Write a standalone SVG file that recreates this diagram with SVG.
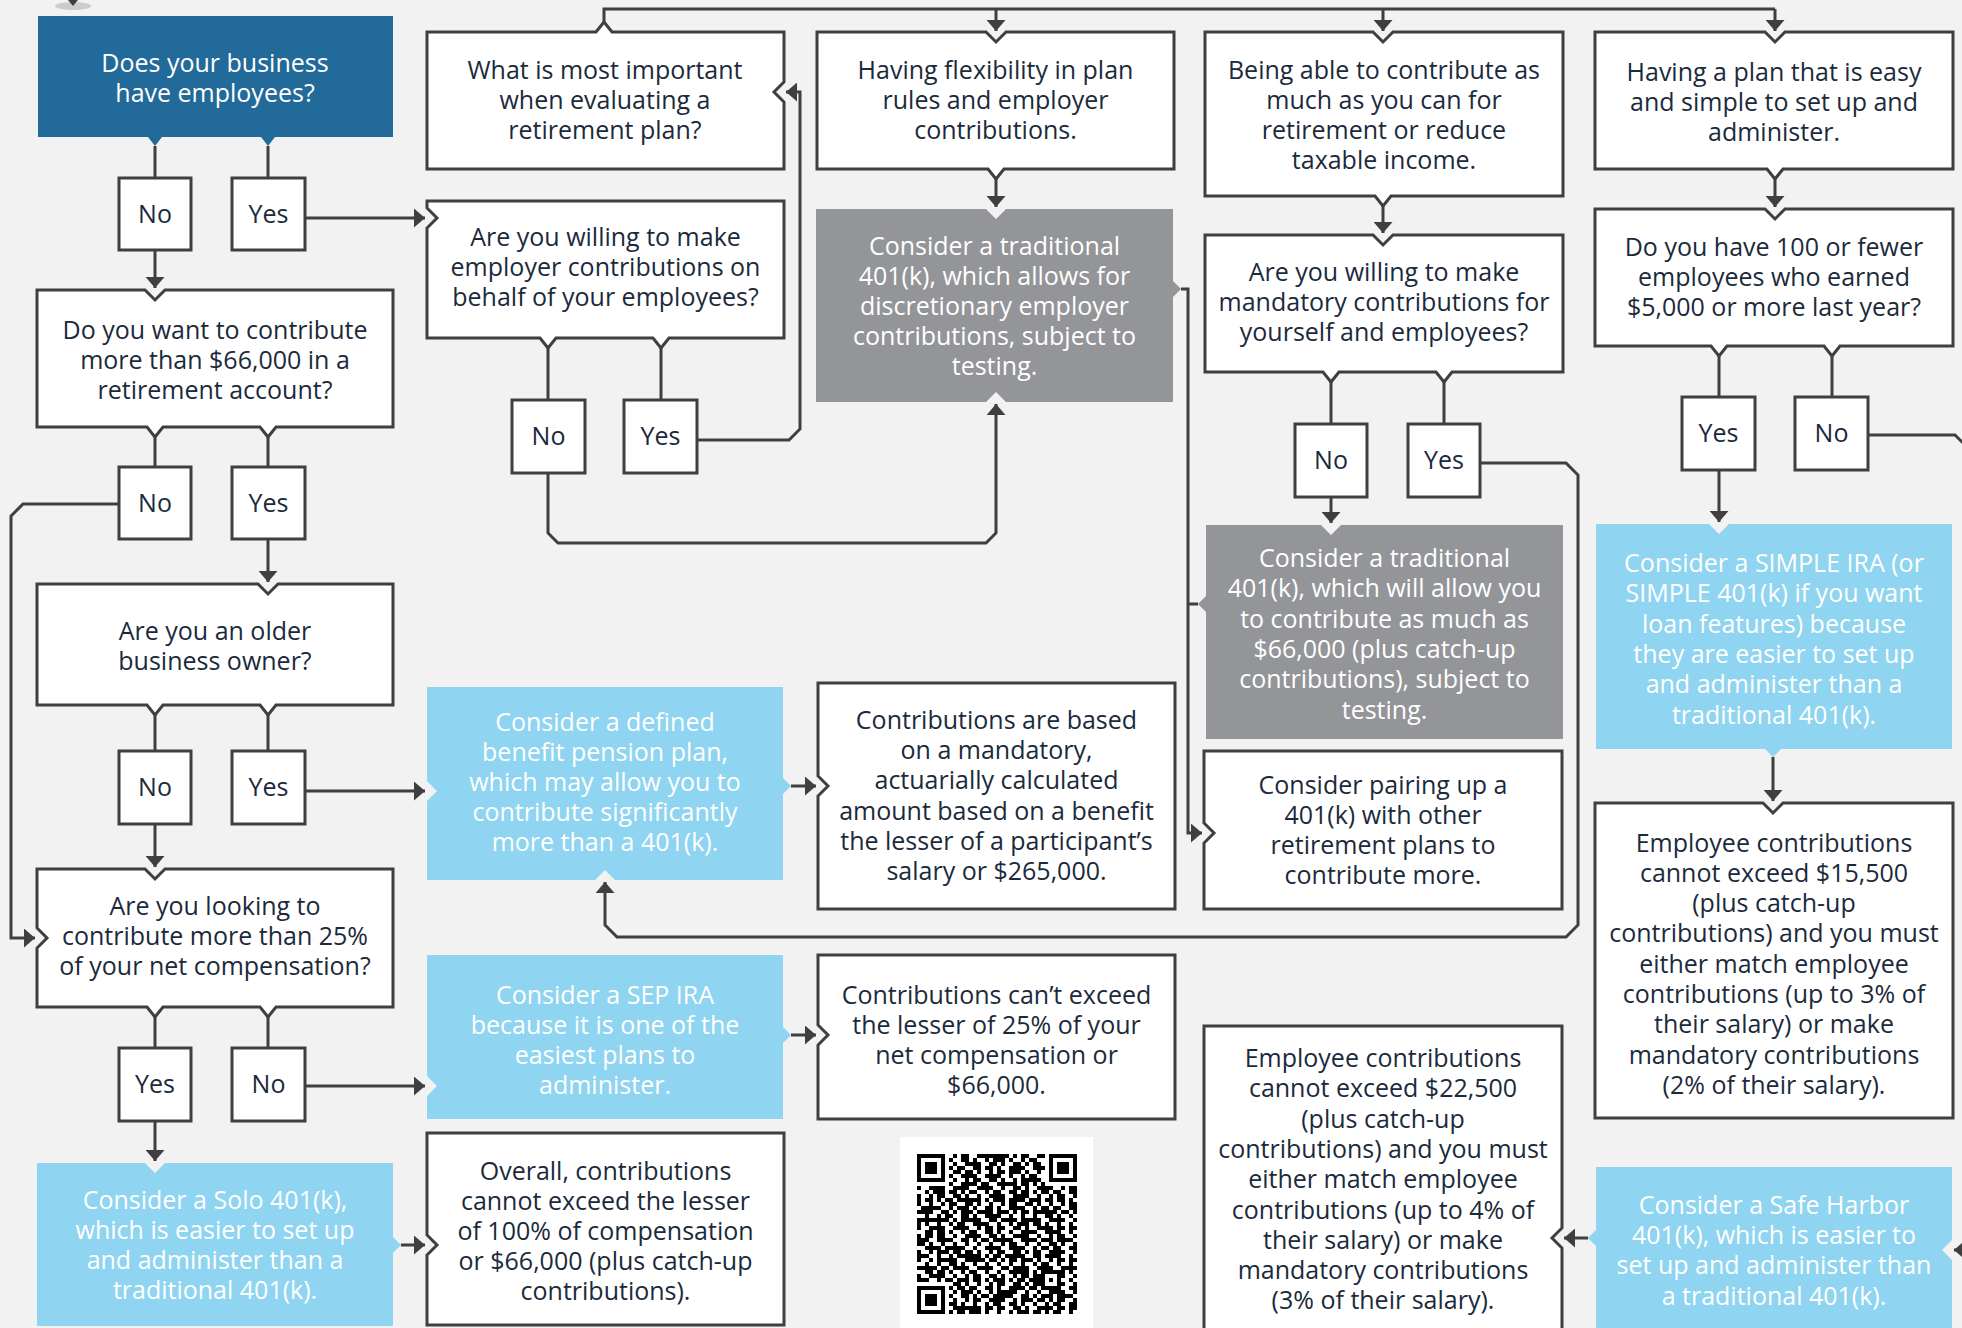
<svg xmlns="http://www.w3.org/2000/svg" width="1962" height="1328" viewBox="0 0 1962 1328">
<style>
.bx{fill:#fff;stroke:#3f3f3f;stroke-width:3}
.lb{fill:#8fd4f0}
.gr{fill:#939598}
.db{fill:#226a9a}
.c{fill:none;stroke:#3f3f3f;stroke-width:3;marker-end:url(#ah)}
.cn{fill:none;stroke:#3f3f3f;stroke-width:3}
.t{font-family:"Open Sans","Liberation Sans",sans-serif;font-size:25px;fill:#1b2a3b;text-anchor:middle}
.w{fill:#fff}
</style>
<defs>
<marker id="ah" viewBox="0 0 11 19" refX="11" refY="9.5" markerWidth="11" markerHeight="19" markerUnits="userSpaceOnUse" orient="auto"><path d="M0 0 L11 9.5 L0 19 Z" fill="#3f3f3f"/></marker>
<pattern id="q1" patternUnits="userSpaceOnUse" x="917" y="1154" width="12" height="8"><rect width="4" height="4"/><rect x="8" y="4" width="4" height="4"/></pattern>
<pattern id="q2" patternUnits="userSpaceOnUse" x="917" y="1154" width="20" height="28"><rect x="4" width="8" height="4"/><rect y="12" width="4" height="8"/><rect x="12" y="20" width="4" height="4"/><rect x="16" y="8" width="4" height="4"/></pattern>
<pattern id="q3" patternUnits="userSpaceOnUse" x="917" y="1154" width="28" height="20"><rect y="4" width="4" height="4"/><rect x="20" width="4" height="8"/><rect x="12" y="12" width="8" height="4"/><rect x="24" y="16" width="4" height="4"/></pattern>
<pattern id="q4" patternUnits="userSpaceOnUse" x="917" y="1154" width="44" height="36"><rect x="8" y="8" width="8" height="4"/><rect x="28" y="20" width="4" height="8"/><rect x="36" width="4" height="4"/><rect y="28" width="12" height="4"/><rect x="20" y="32" width="4" height="4"/><rect x="4" y="16" width="4" height="4"/></pattern>
</defs>
<rect width="1962" height="1328" fill="#f2f2f2"/>

<g id="start">
<ellipse cx="73" cy="6" rx="18" ry="4" fill="#cccccc"/>
<polygon points="68,0 78,0 73,6" fill="#3f3f3f"/>
</g>

<g id="connectors">
<path class="cn" d="M604 22 V9 H1775"/>
<path class="c" d="M1775 9 V31"/>
<path class="c" d="M996 9 V31"/>
<path class="c" d="M1383 9 V31"/>
<path class="c" d="M996 179 V207"/>
<path class="c" d="M1383 206 V233"/>
<path class="c" d="M1775 179 V207"/>
<path class="cn" d="M155 146 V178"/>
<path class="cn" d="M268 146 V178"/>
<path class="c" d="M155 250 V288"/>
<path class="c" d="M305 218 H425"/>
<path class="cn" d="M155 437 V467"/>
<path class="cn" d="M268 437 V467"/>
<path class="c" d="M119 504 H23 L11 516 V938 H35"/>
<path class="c" d="M268 539 V582"/>
<path class="cn" d="M155 715 V751"/>
<path class="cn" d="M268 715 V751"/>
<path class="c" d="M305 791 H425"/>
<path class="c" d="M155 824 V867"/>
<path class="cn" d="M155 1017 V1048"/>
<path class="cn" d="M268 1017 V1048"/>
<path class="c" d="M305 1086 H425"/>
<path class="c" d="M155 1121 V1161"/>
<path class="c" d="M401 1245 H425"/>
<path class="cn" d="M548 348 V400"/>
<path class="cn" d="M661 348 V400"/>
<path class="c" d="M697 440 H789 L800 429 V92 H786"/>
<path class="c" d="M548 473 V533 L558 543 H986 L996 533 V404"/>
<path class="c" d="M791 786 H816"/>
<path class="c" d="M791 1035 H816"/>
<path class="c" d="M1181 289 H1188 V833 H1202"/>
<path class="cn" d="M1198 604 H1188"/>
<path class="cn" d="M1331 382 V424"/>
<path class="cn" d="M1444 382 V424"/>
<path class="c" d="M1331 497 V523"/>
<path class="c" d="M1480 463 H1566 L1578 475 V925 L1566 937 H617 L605 925 V882"/>
<path class="cn" d="M1719 356 V397"/>
<path class="cn" d="M1832 356 V397"/>
<path class="c" d="M1719 470 V522"/>
<path class="c" d="M1868 435 H1955 L1967 447 V1250 H1954"/>
<path class="c" d="M1773 757 V801"/>
<path class="c" d="M1588 1238 H1564"/>
</g>

<g id="n-employees">
<path class="db" d="M38 16 H393 V137 H275 L268 146 L261 137 H162 L155 146 L148 137 H38 Z"/>
<text class="t w" x="215" y="71.5">Does your business<tspan x="215" dy="30">have employees?</tspan></text>
</g>
<g id="n-important">
<path class="bx" d="M427 32 H596 L604 22 L612 32 H784 V82 L774 92 L784 102 V169 H427 Z"/>
<text class="t" x="605" y="79">What is most important<tspan x="605" dy="30">when evaluating a</tspan><tspan x="605" dy="30">retirement plan?</tspan></text>
</g>
<g id="n-flexibility">
<path class="bx" d="M817 32 H986 L996 42 L1006 32 H1174 V169 H1004 L996 179 L988 169 H817 Z"/>
<text class="t" x="995.5" y="79">Having flexibility in plan<tspan x="995.5" dy="30">rules and employer</tspan><tspan x="995.5" dy="30">contributions.</tspan></text>
</g>
<g id="n-contribute-much">
<path class="bx" d="M1205 32 H1373 L1383 42 L1393 32 H1563 V196 H1391 L1383 206 L1375 196 H1205 Z"/>
<text class="t" x="1384" y="79">Being able to contribute as<tspan x="1384" dy="30">much as you can for</tspan><tspan x="1384" dy="30">retirement or reduce</tspan><tspan x="1384" dy="30">taxable income.</tspan></text>
</g>
<g id="n-easy">
<path class="bx" d="M1595 32 H1765 L1775 42 L1785 32 H1953 V169 H1783 L1775 179 L1767 169 H1595 Z"/>
<text class="t" x="1774" y="81">Having a plan that is easy<tspan x="1774" dy="30">and simple to set up and</tspan><tspan x="1774" dy="30">administer.</tspan></text>
</g>
<g id="n-66000">
<path class="bx" d="M37 290 H145 L155 300 L165 290 H393 V427 H276 L268 437 L260 427 H163 L155 437 L147 427 H37 Z"/>
<text class="t" x="215" y="338.5">Do you want to contribute<tspan x="215" dy="30">more than $66,000 in a</tspan><tspan x="215" dy="30">retirement account?</tspan></text>
</g>
<g id="n-employer">
<path class="bx" d="M427 201 H784 V338 H669 L661 348 L653 338 H556 L548 348 L540 338 H427 V228 L437 218 L427 208 Z"/>
<text class="t" x="605.5" y="246">Are you willing to make<tspan x="605.5" dy="30">employer contributions on</tspan><tspan x="605.5" dy="30">behalf of your employees?</tspan></text>
</g>
<g id="n-trad-discretionary">
<path class="gr" d="M816 209 H986 L996 219 L1006 209 H1173 V281 L1181 289 L1173 297 V402 H1006 L996 392 L986 402 H816 Z"/>
<text class="t w" x="994.5" y="255">Consider a traditional<tspan x="994.5" dy="30">401(k), which allows for</tspan><tspan x="994.5" dy="30">discretionary employer</tspan><tspan x="994.5" dy="30">contributions, subject to</tspan><tspan x="994.5" dy="30">testing.</tspan></text>
</g>
<g id="n-mandatory">
<path class="bx" d="M1205 235 H1373 L1383 245 L1393 235 H1563 V372 H1452 L1444 382 L1436 372 H1339 L1331 382 L1323 372 H1205 Z"/>
<text class="t" x="1384" y="281">Are you willing to make<tspan x="1384" dy="30">mandatory contributions for</tspan><tspan x="1384" dy="30">yourself and employees?</tspan></text>
</g>
<g id="n-100">
<path class="bx" d="M1595 209 H1765 L1775 219 L1785 209 H1953 V346 H1840 L1832 356 L1824 346 H1727 L1719 356 L1711 346 H1595 Z"/>
<text class="t" x="1774" y="256">Do you have 100 or fewer<tspan x="1774" dy="30">employees who earned</tspan><tspan x="1774" dy="30">$5,000 or more last year?</tspan></text>
</g>
<g id="n-older">
<path class="bx" d="M37 584 H258 L268 594 L278 584 H393 V705 H276 L268 715 L260 705 H163 L155 715 L147 705 H37 Z"/>
<text class="t" x="215" y="640">Are you an older<tspan x="215" dy="30">business owner?</tspan></text>
</g>
<g id="n-defined-benefit">
<path class="lb" d="M427 687 H783 V778 L791 786 L783 794 V880 H615 L605 870 L595 880 H427 V801 L437 791 L427 781 Z"/>
<text class="t w" x="605" y="731">Consider a defined<tspan x="605" dy="30">benefit pension plan,</tspan><tspan x="605" dy="30">which may allow you to</tspan><tspan x="605" dy="30">contribute significantly</tspan><tspan x="605" dy="30">more than a 401(k).</tspan></text>
</g>
<g id="n-db-contributions">
<path class="bx" d="M818 683 H1175 V909 H818 V796 L828 786 L818 776 Z"/>
<text class="t" x="996.5" y="729">Contributions are based<tspan x="996.5" dy="30.2">on a mandatory,</tspan><tspan x="996.5" dy="30.2">actuarially calculated</tspan><tspan x="996.5" dy="30.2">amount based on a benefit</tspan><tspan x="996.5" dy="30.2">the lesser of a participant’s</tspan><tspan x="996.5" dy="30.2">salary or $265,000.</tspan></text>
</g>
<g id="n-trad-66000">
<path class="gr" d="M1206 525 H1321 L1331 535 L1341 525 H1563 V739 H1206 V612 L1198 604 L1206 596 Z"/>
<text class="t w" x="1384.5" y="567">Consider a traditional<tspan x="1384.5" dy="30.3">401(k), which will allow you</tspan><tspan x="1384.5" dy="30.3">to contribute as much as</tspan><tspan x="1384.5" dy="30.3">$66,000 (plus catch-up</tspan><tspan x="1384.5" dy="30.3">contributions), subject to</tspan><tspan x="1384.5" dy="30.3">testing.</tspan></text>
</g>
<g id="n-pairing">
<path class="bx" d="M1204 751 H1562 V909 H1204 V843 L1214 833 L1204 823 Z"/>
<text class="t" x="1383" y="794">Consider pairing up a<tspan x="1383" dy="30">401(k) with other</tspan><tspan x="1383" dy="30">retirement plans to</tspan><tspan x="1383" dy="30">contribute more.</tspan></text>
</g>
<g id="n-simple">
<path class="lb" d="M1596 524 H1709 L1719 534 L1729 524 H1952 V749 H1781 L1773 757 L1765 749 H1596 Z"/>
<text class="t w" x="1774" y="572">Consider a SIMPLE IRA (or<tspan x="1774" dy="30.3">SIMPLE 401(k) if you want</tspan><tspan x="1774" dy="30.3">loan features) because</tspan><tspan x="1774" dy="30.3">they are easier to set up</tspan><tspan x="1774" dy="30.3">and administer than a</tspan><tspan x="1774" dy="30.3">traditional 401(k).</tspan></text>
</g>
<g id="n-15500">
<path class="bx" d="M1595 803 H1763 L1773 813 L1783 803 H1953 V1118 H1595 Z"/>
<text class="t" x="1774" y="851.5">Employee contributions<tspan x="1774" dy="30.3">cannot exceed $15,500</tspan><tspan x="1774" dy="30.3">(plus catch-up</tspan><tspan x="1774" dy="30.3">contributions) and you must</tspan><tspan x="1774" dy="30.3">either match employee</tspan><tspan x="1774" dy="30.3">contributions (up to 3% of</tspan><tspan x="1774" dy="30.3">their salary) or make</tspan><tspan x="1774" dy="30.3">mandatory contributions</tspan><tspan x="1774" dy="30.3">(2% of their salary).</tspan></text>
</g>
<g id="n-25">
<path class="bx" d="M37 869 H145 L155 879 L165 869 H393 V1007 H276 L268 1017 L260 1007 H163 L155 1017 L147 1007 H37 V948 L47 938 L37 928 Z"/>
<text class="t" x="215" y="915">Are you looking to<tspan x="215" dy="30">contribute more than 25%</tspan><tspan x="215" dy="30">of your net compensation?</tspan></text>
</g>
<g id="n-sep">
<path class="lb" d="M427 955 H783 V1027 L791 1035 L783 1043 V1119 H427 V1096 L437 1086 L427 1076 Z"/>
<text class="t w" x="605" y="1003.5">Consider a SEP IRA<tspan x="605" dy="30">because it is one of the</tspan><tspan x="605" dy="30">easiest plans to</tspan><tspan x="605" dy="30">administer.</tspan></text>
</g>
<g id="n-sep-limit">
<path class="bx" d="M818 955 H1175 V1119 H818 V1045 L828 1035 L818 1025 Z"/>
<text class="t" x="996.5" y="1004">Contributions can’t exceed<tspan x="996.5" dy="30">the lesser of 25% of your</tspan><tspan x="996.5" dy="30">net compensation or</tspan><tspan x="996.5" dy="30">$66,000.</tspan></text>
</g>
<g id="n-solo">
<path class="lb" d="M37 1163 H145 L155 1173 L165 1163 H393 V1237 L401 1245 L393 1253 V1326 H37 Z"/>
<text class="t w" x="215" y="1209">Consider a Solo 401(k),<tspan x="215" dy="30">which is easier to set up</tspan><tspan x="215" dy="30">and administer than a</tspan><tspan x="215" dy="30">traditional 401(k).</tspan></text>
</g>
<g id="n-overall">
<path class="bx" d="M427 1133 H784 V1325 H427 V1255 L437 1245 L427 1235 Z"/>
<text class="t" x="605.5" y="1179.5">Overall, contributions<tspan x="605.5" dy="30.1">cannot exceed the lesser</tspan><tspan x="605.5" dy="30.1">of 100% of compensation</tspan><tspan x="605.5" dy="30.1">or $66,000 (plus catch-up</tspan><tspan x="605.5" dy="30.1">contributions).</tspan></text>
</g>
<g id="n-22500">
<path class="bx" d="M1204 1026 H1562 V1228 L1552 1238 L1562 1248 V1340 H1204 Z"/>
<text class="t" x="1383" y="1067">Employee contributions<tspan x="1383" dy="30.3">cannot exceed $22,500</tspan><tspan x="1383" dy="30.3">(plus catch-up</tspan><tspan x="1383" dy="30.3">contributions) and you must</tspan><tspan x="1383" dy="30.3">either match employee</tspan><tspan x="1383" dy="30.3">contributions (up to 4% of</tspan><tspan x="1383" dy="30.3">their salary) or make</tspan><tspan x="1383" dy="30.3">mandatory contributions</tspan><tspan x="1383" dy="30.3">(3% of their salary).</tspan></text>
</g>
<g id="n-safe-harbor">
<path class="lb" d="M1596 1167 H1952 V1240 L1942 1250 L1952 1260 V1340 H1596 V1246 L1588 1238 L1596 1230 Z"/>
<text class="t w" x="1774" y="1214">Consider a Safe Harbor<tspan x="1774" dy="30.2">401(k), which is easier to</tspan><tspan x="1774" dy="30.2">set up and administer than</tspan><tspan x="1774" dy="30.2">a traditional 401(k).</tspan></text>
</g>

<g id="yn-1-no"><rect class="bx" x="119" y="178" width="72" height="72"/><text class="t" x="155" y="223">No</text></g>
<g id="yn-1-yes"><rect class="bx" x="232" y="178" width="73" height="72"/><text class="t" x="268.5" y="223">Yes</text></g>
<g id="yn-2-no"><rect class="bx" x="119" y="467" width="72" height="72"/><text class="t" x="155" y="512">No</text></g>
<g id="yn-2-yes"><rect class="bx" x="232" y="467" width="73" height="72"/><text class="t" x="268.5" y="512">Yes</text></g>
<g id="yn-3-no"><rect class="bx" x="119" y="751" width="72" height="73"/><text class="t" x="155" y="796">No</text></g>
<g id="yn-3-yes"><rect class="bx" x="232" y="751" width="73" height="73"/><text class="t" x="268.5" y="796">Yes</text></g>
<g id="yn-4-yes"><rect class="bx" x="119" y="1048" width="72" height="73"/><text class="t" x="155" y="1093">Yes</text></g>
<g id="yn-4-no"><rect class="bx" x="232" y="1048" width="73" height="73"/><text class="t" x="268.5" y="1093">No</text></g>
<g id="yn-5-no"><rect class="bx" x="512" y="400" width="73" height="73"/><text class="t" x="548.5" y="445">No</text></g>
<g id="yn-5-yes"><rect class="bx" x="624" y="400" width="73" height="73"/><text class="t" x="660.5" y="445">Yes</text></g>
<g id="yn-6-no"><rect class="bx" x="1295" y="424" width="72" height="73"/><text class="t" x="1331" y="469">No</text></g>
<g id="yn-6-yes"><rect class="bx" x="1408" y="424" width="72" height="73"/><text class="t" x="1444" y="469">Yes</text></g>
<g id="yn-7-yes"><rect class="bx" x="1682" y="397" width="73" height="73"/><text class="t" x="1718.5" y="442">Yes</text></g>
<g id="yn-7-no"><rect class="bx" x="1795" y="397" width="73" height="73"/><text class="t" x="1831.5" y="442">No</text></g>

<g id="qr-code">
<rect x="900" y="1137" width="193" height="191" fill="#fff"/>
<rect x="917" y="1154" width="160" height="160" fill="url(#q1)"/>
<rect x="917" y="1154" width="160" height="160" fill="url(#q2)"/>
<rect x="917" y="1154" width="160" height="160" fill="url(#q3)"/>
<rect x="917" y="1154" width="160" height="160" fill="url(#q4)"/>
<rect x="917" y="1154" width="32" height="32" fill="#fff"/>
<rect x="1045" y="1154" width="32" height="32" fill="#fff"/>
<rect x="917" y="1282" width="32" height="32" fill="#fff"/>
<rect x="919" y="1156" width="24" height="24" fill="none" stroke="#000" stroke-width="4"/>
<rect x="925" y="1162" width="12" height="12"/>
<rect x="1051" y="1156" width="24" height="24" fill="none" stroke="#000" stroke-width="4"/>
<rect x="1057" y="1162" width="12" height="12"/>
<rect x="919" y="1288" width="24" height="24" fill="none" stroke="#000" stroke-width="4"/>
<rect x="925" y="1294" width="12" height="12"/>
<rect x="1043" y="1272" width="16" height="16" fill="#fff" stroke="#000" stroke-width="4"/>
<rect x="1049" y="1278" width="4" height="4"/>
</g>
</svg>
